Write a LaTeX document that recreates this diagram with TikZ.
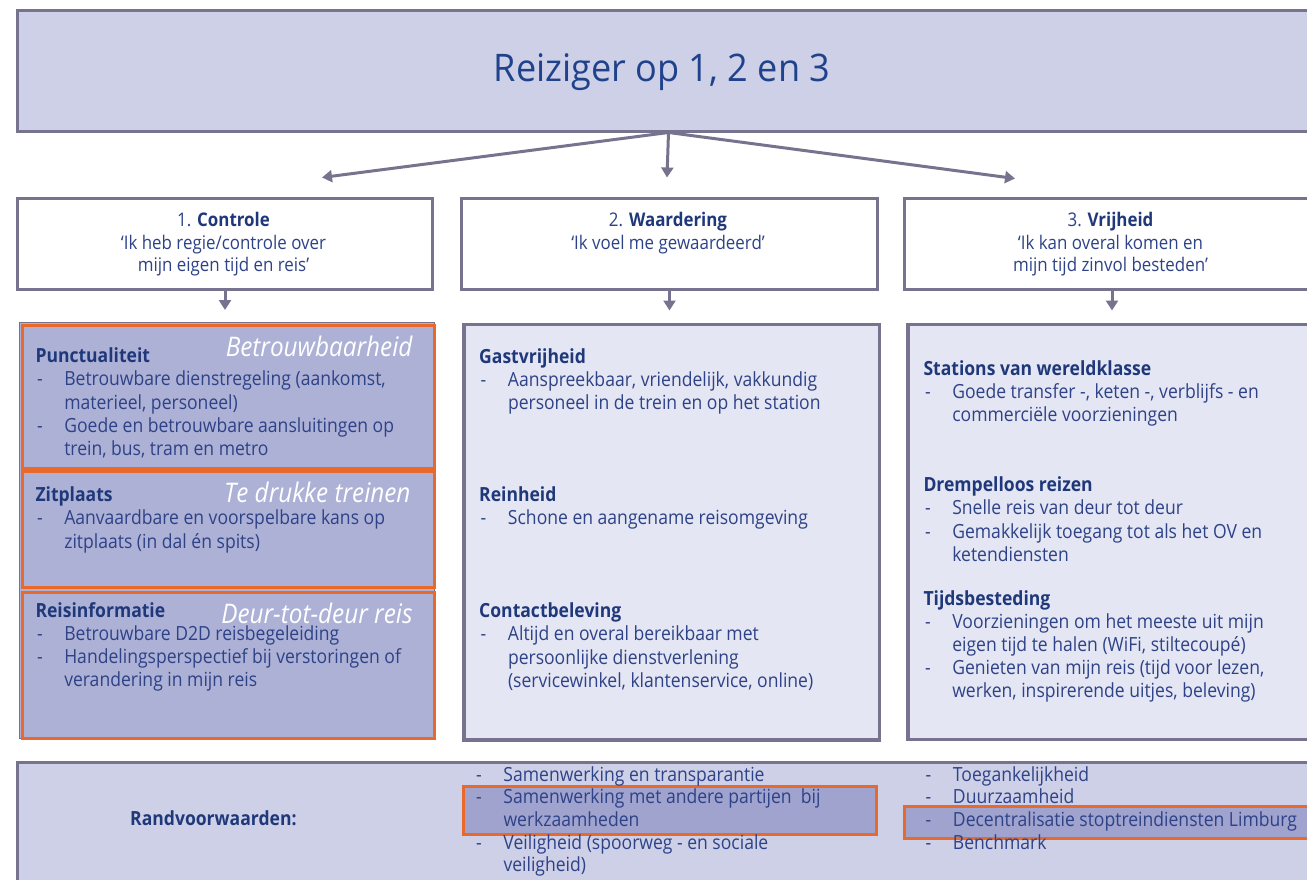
\documentclass[tikz,border=0pt]{standalone}
\usepackage{fontspec}
\setmainfont{Open Sans}[FakeStretch=0.9]
\newfontfamily\titlefont{Open Sans}[FakeStretch=0.95]
\usetikzlibrary{arrows.meta}
\definecolor{frm}{RGB}{119,115,143}
\definecolor{topfill}{RGB}{205,208,230}
\definecolor{midfill}{RGB}{173,177,214}
\definecolor{lightfill}{RGB}{228,230,243}
\definecolor{org}{RGB}{232,105,42}
\definecolor{hilite}{RGB}{159,163,206}
\definecolor{headblue}{RGB}{31,56,122}
\definecolor{bodyblue}{RGB}{46,66,135}
\definecolor{titleblue}{RGB}{32,66,140}
\newcommand\seclist[1]{\begin{tabular}[t]{@{\hspace{1.5pt}}p{27.3pt}@{}l@{}}#1\end{tabular}}
\newcommand\hd[1]{\multicolumn{2}{@{}l@{}}{\bfseries\color{headblue}#1}}
\newcommand\toplines[1]{\begin{tabular}[t]{@{}c@{}}#1\end{tabular}}
\begin{document}
\begin{tikzpicture}[x=1pt,y=-1pt,
  box/.style={draw=frm, line width=3pt, inner sep=0pt, anchor=north west},
  obox/.style={draw=org, line width=3pt, inner sep=0pt, anchor=north west},
  arr/.style={draw=frm, line width=3pt, -{Triangle[width=12pt,length=10pt]}},
  txt/.style={inner sep=0pt, anchor=base west, text=bodyblue, font=\fontsize{19.5}{23.2}\selectfont},
  toptxt/.style={inner sep=0pt, anchor=base, text=bodyblue, font=\fontsize{18.8}{22.5}\selectfont},
  lab/.style={inner sep=0pt, anchor=base east, text=white, font=\fontsize{27}{30}\selectfont\itshape}]
\useasboundingbox (0,0) rectangle (1307,879);
\clip (0,0) rectangle (1307,879);

% top box
\node[box, fill=topfill, minimum width=1302pt, minimum height=121pt] (top) at (16,8.5) {};
\node[inner sep=0pt, anchor=base, text=titleblue, font=\titlefont\fontsize{38}{40}\selectfont] (title) at (662,81.7) {Reiziger op 1, 2 en 3};

% three theme boxes
\node[box, fill=white, minimum width=415pt, minimum height=91pt] (b1) at (16,197) {};
\node[box, fill=white, minimum width=416pt, minimum height=91pt] (b2) at (460,197) {};
\node[box, fill=white, minimum width=415pt, minimum height=91pt] (b3) at (903,197) {};

\coordinate (a1) at (322,177.5);
\coordinate (a2) at (667,177.5);
\coordinate (a3) at (1015,178.5);
\draw[arr] (top.south) -- (a1);
\draw[arr] (top.south) -- (a2);
\draw[arr] (top.south) -- (a3);

\node[toptxt] (t1) at (223.5,226.7) {\toplines{1. {\bfseries\color{headblue}Controle}\\ ‘Ik heb regie/controle over\\ mijn eigen tijd en reis’}};
\node[toptxt] (t2) at (668,226.7) {\toplines{2. {\bfseries\color{headblue}Waardering}\\ ‘Ik voel me gewaardeerd’}};
\node[toptxt] (t3) at (1110.5,226.7) {\toplines{3. {\bfseries\color{headblue}Vrijheid}\\ ‘Ik kan overal komen en\\ mijn tijd zinvol besteden’}};

% lower boxes
\node[box, fill=midfill, line width=1pt, minimum width=415.5pt, minimum height=416pt] (L) at (18.5,322) {};
\node[obox, minimum width=412pt, minimum height=143pt] (o1) at (20.5,323.5) {};
\node[obox, minimum width=412pt, minimum height=116.5pt] (o2) at (20.5,469.5) {};
\node[obox, minimum width=412pt, minimum height=146pt] (o3) at (20.5,590.5) {};
\node[box, fill=lightfill, line width=3.5pt, minimum width=415.5pt, minimum height=415.5pt] (M) at (462,322.5) {};
\node[box, fill=lightfill, line width=3.5pt, minimum width=415pt, minimum height=415pt] (R) at (906,322.5) {};

\draw[arr, shorten >=12pt] (b1.south) -- (b1.south |- L.north);
\draw[arr, shorten >=12pt] (b2.south) -- (b2.south |- M.north);
\draw[arr, shorten >=12pt] (b3.south) -- (b3.south |- R.north);

% left column texts
\node[txt] (p1) at (35.3,362.7) {\seclist{\hd{Punctualiteit}\\ -&Betrouwbare dienstregeling (aankomst,\\ &materieel, personeel)\\ -&Goede en betrouwbare aansluitingen op\\ &trein, bus, tram en metro}};
\node[lab] (l1) at (412.7,356) {Betrouwbaarheid};
\node[txt] (p2) at (35.3,501.7) {\seclist{\hd{Zitplaats}\\ -&Aanvaardbare en voorspelbare kans op\\ &zitplaats (in dal én spits)}};
\node[lab] (l2) at (410.7,502.3) {Te drukke treinen};
\node[txt] (p3) at (35.3,617.3) {\seclist{\hd{Reisinformatie}\\ -&Betrouwbare D2D reisbegeleiding\\ -&Handelingsperspectief bij verstoringen of\\ &verandering in mijn reis}};
\node[lab] (l3) at (412.7,623.3) {Deur-tot-deur reis};

% middle column texts
\node[txt] (m1) at (479,363.3) {\seclist{\hd{Gastvrijheid}\\ -&Aanspreekbaar, vriendelijk, vakkundig\\ &personeel in de trein en op het station}};
\node[txt] (m2) at (479,501.7) {\seclist{\hd{Reinheid}\\ -&Schone en aangename reisomgeving}};
\node[txt] (m3) at (479,617.7) {\seclist{\hd{Contactbeleving}\\ -&Altijd en overal bereikbaar met\\ &persoonlijke dienstverlening\\ &(servicewinkel, klantenservice, online)}};

% right column texts
\node[txt] (r1) at (923.3,375) {\seclist{\hd{Stations van wereldklasse}\\ -&Goede transfer -, keten -, verblijfs - en\\ &commerciële voorzieningen}};
\node[txt] (r2) at (923.3,491.7) {\seclist{\hd{Drempelloos reizen}\\ -&Snelle reis van deur tot deur\\ -&Gemakkelijk toegang tot als het OV en\\ &ketendiensten}};
\node[txt] (r3) at (923.3,605) {\seclist{\hd{Tijdsbesteding}\\ -&Voorzieningen om het meeste uit mijn\\ &eigen tijd te halen (WiFi, stiltecoupé)\\ -&Genieten van mijn reis (tijd voor lezen,\\ &werken, inspirerende uitjes, beleving)}};

% bottom box
\node[box, fill=topfill, minimum width=1304pt, minimum height=140pt] (B) at (16,761) {};
\node[obox, fill=hilite, minimum width=413pt, minimum height=48pt] (h1) at (462,785) {};
\node[obox, fill=hilite, minimum width=420pt, minimum height=32pt] (h2) at (903.3,805) {};
\node[txt, text=headblue, font=\bfseries\fontsize{19.5}{23}\selectfont] (rv) at (130,825) {Randvoorwaarden:};
\node[txt, font=\fontsize{19.5}{22.7}\selectfont] (bm) at (474.5,781) {\seclist{-&Samenwerking en transparantie\\ -&Samenwerking met andere partijen\ \ bij\\ &werkzaamheden\\ -&Veiligheid (spoorweg - en sociale\\ &veiligheid)}};
\node[txt, font=\fontsize{19.5}{22.7}\selectfont] (br) at (924,781) {\seclist{-&Toegankelijkheid\\ -&Duurzaamheid\\ -&Decentralisatie stoptreindiensten Limburg\\ -&Benchmark}};
\end{tikzpicture}
\end{document}
